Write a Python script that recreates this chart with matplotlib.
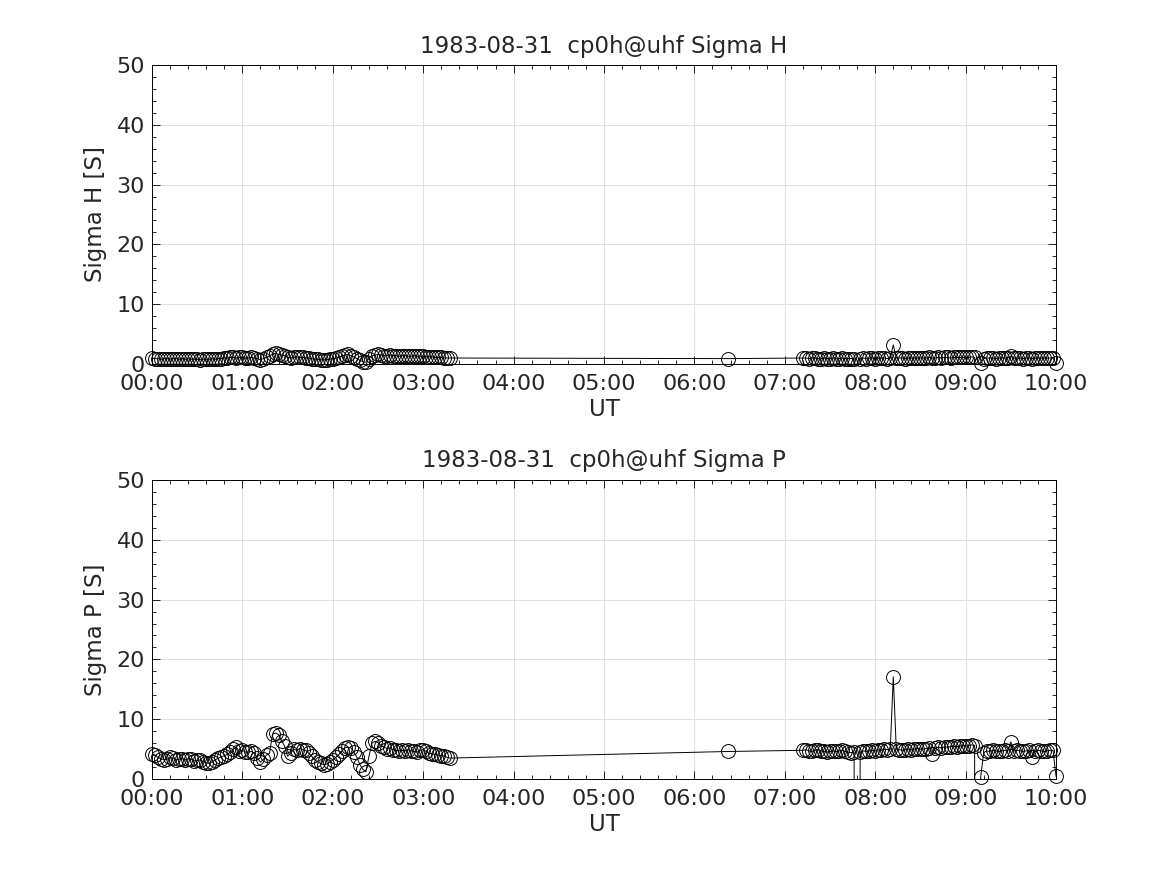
import numpy as np
import matplotlib
matplotlib.use("Agg")
import matplotlib.pyplot as plt
from matplotlib.ticker import MultipleLocator, FuncFormatter

# ---------------- data ----------------
title_h = "1983-08-31  cp0h@uhf Sigma H"
title_p = "1983-08-31  cp0h@uhf Sigma P"

# sampling: segment start times [hours] and cadence [minutes]
seg1_start_h = 0.0
seg2_start_h = 7.2
cadence_min = 2.0
isolated_time_h = 6.37

# Sigma H [S]
sigH_seg1 = [1.0, 0.9, 0.9, 0.8, 0.9, 0.9, 0.8, 0.9, 0.9, 0.8,
             0.9, 0.8, 0.9, 0.8, 0.8, 0.8, 0.7, 0.8, 0.8, 0.8,
             0.9, 0.8, 0.9, 0.9, 1.0, 1.0, 1.1, 1.1, 1.0, 1.1,
             1.1, 1.0, 1.0, 1.1, 1.0, 0.9, 0.7, 0.9, 1.1, 1.3,
             1.7, 1.8, 1.6, 1.5, 1.4, 1.1, 1.0, 1.1, 1.2, 1.1,
             1.1, 1.0, 1.0, 0.9, 0.8, 0.8, 0.7, 0.7, 0.7, 0.8,
             0.9, 1.0, 1.1, 1.3, 1.5, 1.6, 1.4, 1.2, 0.9, 0.6,
             0.4, 0.3, 0.9, 1.4, 1.5, 1.6, 1.5, 1.4, 1.4, 1.5,
             1.4, 1.4, 1.3, 1.4, 1.4, 1.3, 1.3, 1.4, 1.3, 1.3,
             1.3, 1.2, 1.2, 1.2, 1.1, 1.1, 1.1, 1.0, 1.0, 1.0]
sigH_iso = [0.9]
sigH_seg2 = [1.0, 1.0, 0.9, 1.0, 1.0, 0.9, 0.9, 1.0, 0.9, 0.9,
             1.0, 0.9, 0.9, 1.0, 0.9, 0.9, 0.9, 0.9, -1000.0, 0.9,
             1.0, 0.9, 1.0, 1.0, 0.9, 1.0, 1.0, 1.0, 0.9, 1.0,
             3.2, 1.0, 1.0, 1.0, 0.9, 1.0, 1.0, 1.0, 1.0, 1.0,
             1.0, 1.0, 1.1, 1.0, 1.0, 1.1, 1.0, 1.1, 1.1, 1.0,
             1.1, 1.1, 1.1, 1.1, 1.1, 1.1, 1.2, 1.1, -1000.0, 0.1,
             0.9, 1.0, 1.0, 1.0, 0.9, 1.0, 1.0, 1.0, 1.0, 1.3,
             1.0, 1.0, 1.0, 0.9, 1.0, 1.0, 0.9, 1.0, 1.0, 1.0,
             1.0, 1.0, 1.0, 1.0, 0.1]

# Sigma P [S]
sigP_seg1 = [4.2, 4.0, 3.6, 3.4, 3.2, 3.3, 3.6, 3.5, 3.2, 3.3,
             3.4, 3.2, 3.4, 3.3, 3.0, 3.1, 3.2, 2.9, 2.7, 2.6,
             2.9, 3.2, 3.5, 3.7, 3.9, 4.1, 4.5, 5.0, 5.3, 4.6,
             4.8, 4.5, 4.5, 4.6, 4.3, 3.5, 2.8, 3.3, 4.0, 4.3,
             7.5, 7.7, 7.4, 6.4, 5.5, 3.8, 4.3, 5.0, 4.8, 5.1,
             4.9, 4.8, 4.3, 3.8, 3.2, 2.9, 2.6, 2.4, 2.5, 2.8,
             3.2, 3.6, 4.1, 4.7, 5.2, 5.3, 5.2, 4.5, 3.6, 2.4,
             1.6, 1.2, 3.8, 6.0, 6.3, 6.1, 5.6, 5.3, 5.1, 5.2,
             4.9, 4.8, 4.7, 4.8, 4.7, 4.9, 4.7, 4.6, 4.5, 4.8,
             4.9, 4.6, 4.3, 4.2, 4.1, 4.0, 3.9, 3.8, 3.6, 3.5]
sigP_iso = [4.6]
sigP_seg2 = [4.8, 4.9, 4.7, 4.6, 4.8, 4.9, 4.7, 4.6, 4.5, 4.6,
             4.7, 4.6, 4.7, 4.8, 4.6, 4.5, 4.4, 4.5, -1000.0, 4.5,
             4.7, 4.6, 4.7, 4.8, 4.7, 4.9, 4.8, 5.0, 4.9, 5.0,
             17.1, 5.0, 4.9, 4.8, 4.9, 5.0, 4.9, 5.0, 5.1, 5.0,
             5.0, 5.1, 5.2, 4.2, 5.2, 5.3, 5.2, 5.4, 5.3, 5.4,
             5.5, 5.4, 5.5, 5.6, 5.5, 5.6, 5.7, 5.6, -1000.0, 0.3,
             4.4, 4.7, 4.6, 4.8, 4.7, 4.6, 4.7, 4.8, 4.7, 6.2,
             4.7, 4.8, 4.7, 4.6, 4.7, 4.8, 3.6, 4.7, 4.8, 4.7,
             4.6, 4.7, 4.8, 4.8, 0.5]

# ---------------- build time axis ----------------
def seg_times(start_h, n):
    return [start_h + k * cadence_min / 60.0 for k in range(n)]

t_all = (seg_times(seg1_start_h, len(sigH_seg1)) + [isolated_time_h]
         + seg_times(seg2_start_h, len(sigH_seg2)))
H_all = sigH_seg1 + sigH_iso + sigH_seg2
P_all = sigP_seg1 + sigP_iso + sigP_seg2

# ---------------- plot ----------------
plt.rcParams['font.family'] = ['DejaVu Sans']
txt = '#262626'
fig = plt.figure(figsize=(11.67, 8.75), dpi=100)
W, Hh = 1167, 875
pos_top = [152 / W, 1 - 364 / Hh, 904 / W, 299 / Hh]
pos_bot = [152 / W, 1 - 779 / Hh, 904 / W, 299 / Hh]
YMIN, YMAX = 0, 50

def hhmm(x, pos):
    h = int(round(x * 60)) // 60
    m = int(round(x * 60)) % 60
    return f"{h:02d}:{m:02d}"

for pos, y, ttl, ylab in [(pos_top, H_all, title_h, 'Sigma H [S]'),
                          (pos_bot, P_all, title_p, 'Sigma P [S]')]:
    ax = fig.add_axes(pos)
    tt = np.array(t_all)
    yy = np.array(y)
    ax.plot(tt, yy, '-', color='k', lw=0.7, clip_on=True)
    inr = (yy >= YMIN) & (yy <= YMAX)
    ax.plot(tt[inr], yy[inr], linestyle='none', marker='o', ms=10,
            mfc='none', mec='k', mew=0.7, clip_on=False)
    ax.set_xlim(0, 10)
    ax.set_ylim(YMIN, YMAX)
    ax.xaxis.set_major_locator(MultipleLocator(1))
    ax.xaxis.set_minor_locator(MultipleLocator(0.2))
    ax.yaxis.set_major_locator(MultipleLocator(10))
    ax.yaxis.set_minor_locator(MultipleLocator(2))
    ax.xaxis.set_major_formatter(FuncFormatter(hhmm))
    ax.grid(True, which='major', color='#e0e0e0', lw=0.7)
    ax.set_axisbelow(True)
    ax.tick_params(which='both', direction='in', top=True, right=True,
                   colors='k', labelcolor=txt, labelsize=16, width=0.6)
    ax.tick_params(axis='x', which='major', length=6, pad=7)
    ax.tick_params(axis='y', which='major', length=6, pad=5)
    ax.tick_params(which='minor', length=3)
    for s in ax.spines.values():
        s.set_linewidth(0.7)
        s.set_color('k')
    ax.set_title(ttl, fontsize=16.5, color=txt, pad=9)
    ax.set_xlabel('UT', fontsize=16.5, color=txt, labelpad=3)
    ax.set_ylabel(ylab, fontsize=16.5, color=txt, labelpad=7)

fig.savefig('out.png', dpi=100)
